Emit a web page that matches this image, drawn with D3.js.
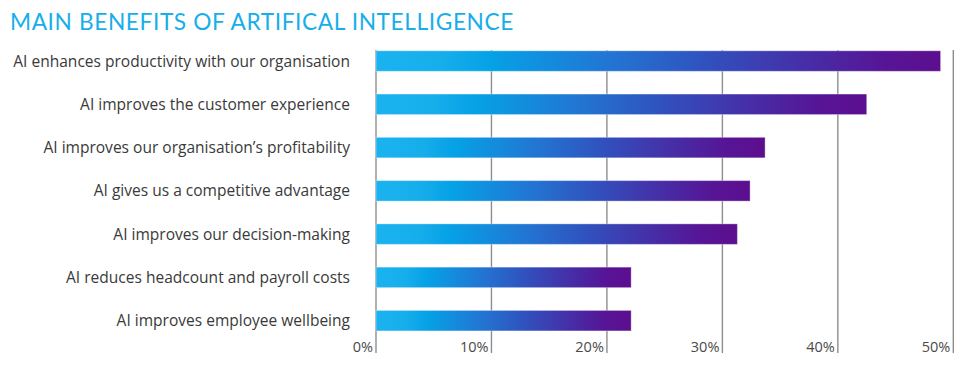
<!DOCTYPE html>
<html><head><meta charset="utf-8">
<script src="https://cdn.jsdelivr.net/npm/d3@7"></script>
<style>body{margin:0;background:#fff;}svg{display:block;}</style>
</head><body><svg id="c" width="964" height="369"></svg>
<script>
const title = "MAIN BENEFITS OF ARTIFICAL INTELLIGENCE";
const categories = [
  "AI enhances productivity with our organisation",
  "AI improves the customer experience",
  "AI improves our organisation\u2019s profitability",
  "AI gives us a competitive advantage",
  "AI improves our decision-making",
  "AI reduces headcount and payroll costs",
  "AI improves employee wellbeing"
];
const values = [48.9, 42.5, 33.7, 32.4, 31.3, 22.1, 22.1];
const tickValues = [0, 10, 20, 30, 40, 50];

const svg = d3.select("#c");
const x = d3.scaleLinear().domain([0, 50]).range([376, 953.3]);
const y = d3.scaleBand().domain(categories).range([39.4, 342.3]).paddingInner(0.526).paddingOuter(0.263);

const defs = svg.append("defs");
const grad = defs.append("linearGradient").attr("id", "g").attr("x1", "0").attr("x2", "1").attr("y1", "0").attr("y2", "0");
[[0, "#1ab3ef"], [0.12, "#16adeb"], [0.2, "#05a2e6"], [0.42, "#2374d2"], [0.58, "#3052be"], [0.75, "#4530a8"], [0.9, "#561596"], [1, "#5c0e8e"]]
  .forEach(([o, c]) => grad.append("stop").attr("offset", o).attr("stop-color", c));

// title
const t = svg.append("text").attr("x", 10).attr("y", 30).attr("fill", "#17aeea")
  .attr("font-family", "Lato, 'Open Sans', sans-serif").attr("font-weight", 400)
  .attr("font-size", 24).attr("letter-spacing", "0.6px").text(title);
const tw = t.node().getComputedTextLength();
t.attr("font-size", 24 * 503 / tw);

// gridlines
svg.append("g").selectAll("line").data(tickValues).join("line")
  .attr("x1", d => x(d)).attr("x2", d => x(d))
  .attr("y1", 50).attr("y2", 353)
  .attr("stroke", "#8e8e8e").attr("stroke-width", 1.4);

// tick labels
svg.append("g").selectAll("text").data(tickValues).join("text")
  .attr("x", d => x(d) - 3).attr("y", 352).attr("text-anchor", "end")
  .attr("font-family", "'Open Sans', sans-serif").attr("font-size", 14.5)
  .attr("fill", "#4a4a4a").text(d => d + "%");

// bars
svg.append("g").selectAll("rect").data(values).join("rect")
  .attr("x", x(0)).attr("y", (d, i) => y(categories[i]))
  .attr("width", d => x(d) - x(0)).attr("height", y.bandwidth())
  .attr("fill", "url(#g)")
  .attr("stroke", "#ffffff").attr("stroke-opacity", 0.35).attr("stroke-width", 1);

// category labels
const lab = svg.append("g").selectAll("text").data(categories).join("text")
  .attr("x", 350).attr("y", d => y(d) + y.bandwidth() / 2 + 5.5)
  .attr("text-anchor", "end")
  .attr("font-family", "'Open Sans', sans-serif").attr("font-size", 15)
  .attr("fill", "#3a3a3a").text(d => d);
const lw = lab.nodes()[0].getComputedTextLength();
lab.attr("font-size", 15 * 337 / lw);
</script></body></html>
